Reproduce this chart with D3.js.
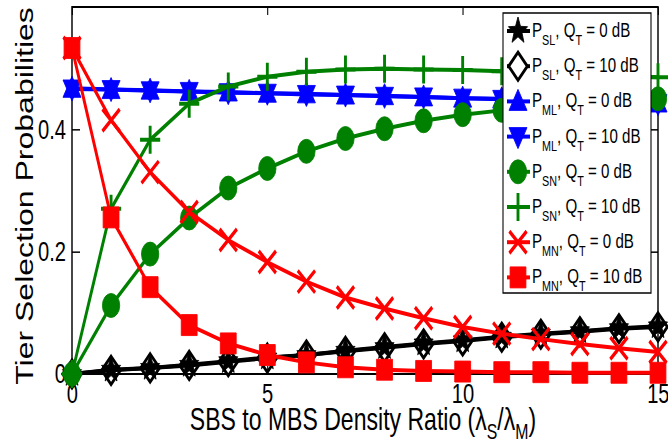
<!DOCTYPE html>
<html>
<head>
<meta charset="utf-8">
<script src="https://cdn.jsdelivr.net/npm/d3@7"></script>
<style>
  body { margin: 0; background: #fff; }
  svg { display: block; font-family: "Liberation Sans", Arial, Helvetica, sans-serif; }
</style>
</head>
<body>
<svg></svg>
<script>
// density ratio on x, one array per curve
var ratio = [0, 1, 2, 3, 4, 5, 6, 7, 8, 9, 10, 11, 12, 13, 14, 15];
var pSL0  = [0, 0.007, 0.010, 0.015, 0.021, 0.027, 0.031, 0.038, 0.044, 0.050, 0.055, 0.061, 0.066, 0.070, 0.075, 0.078];
var pSL10 = [0, 0.006, 0.010, 0.014, 0.020, 0.026, 0.031, 0.037, 0.043, 0.049, 0.054, 0.060, 0.065, 0.069, 0.074, 0.077];
var pML0  = [0.467, 0.465, 0.464, 0.462, 0.461, 0.459, 0.458, 0.456, 0.455, 0.453, 0.451, 0.450, 0.448, 0.446, 0.444, 0.443];
var pML10 = [0.466, 0.465, 0.463, 0.462, 0.460, 0.459, 0.457, 0.456, 0.454, 0.453, 0.451, 0.449, 0.448, 0.446, 0.444, 0.442];
var pSN0  = [0, 0.112, 0.196, 0.255, 0.304, 0.336, 0.364, 0.385, 0.401, 0.414, 0.424, 0.431, 0.437, 0.442, 0.446, 0.450];
var pSN10 = [0, 0.270, 0.383, 0.442, 0.470, 0.486, 0.494, 0.498, 0.499, 0.498, 0.497, 0.495, 0.493, 0.491, 0.488, 0.485];
var pMN0  = [0.533, 0.415, 0.330, 0.265, 0.219, 0.183, 0.151, 0.125, 0.107, 0.091, 0.077, 0.066, 0.057, 0.049, 0.042, 0.036];
var pMN10 = [0.533, 0.256, 0.142, 0.080, 0.050, 0.031, 0.019, 0.011, 0.007, 0.005, 0.004, 0.003, 0.003, 0.002, 0.002, 0.002];

var xTicks = [0, 5, 10, 15];
var yTicks = [0, 0.2, 0.4];
var tierNames = ["SL", "SL", "ML", "ML", "SN", "SN", "MN", "MN"];
var qtValues = ["0", "10", "0", "10", "0", "10", "0", "10"];

var series = [
  { vals: pSL0,  color: "#000", marker: "star" },
  { vals: pSL10, color: "#000", marker: "diamond" },
  { vals: pML0,  color: "#0000ff", marker: "triUp" },
  { vals: pML10, color: "#0000ff", marker: "triDown" },
  { vals: pSN0,  color: "#008000", marker: "circle" },
  { vals: pSN10, color: "#008000", marker: "plus" },
  { vals: pMN0,  color: "#ff0000", marker: "cross" },
  { vals: pMN10, color: "#ff0000", marker: "square" }
];

// the whole figure is squeezed sideways, so draw wide and scale x
var sx = 0.72;
var width = 668, height = 446;
var plotL = 72 / sx, plotR = 658 / sx, plotT = 7, plotB = 374;

var svg = d3.select("svg").attr("width", width).attr("height", height);
var g = svg.append("g").attr("transform", "scale(" + sx + ",1)");

var x = d3.scaleLinear().domain([0, 15]).range([plotL, plotR]);
var y = d3.scaleLinear().domain([0, 0.6]).range([plotB, plotT]);

function markerPath(type) {
  var p = d3.path();
  if (type == "star") {
    for (var i = 0; i < 10; i++) {
      var r = i % 2 == 0 ? 14 : 5.8;
      var a = -Math.PI / 2 + i * Math.PI / 5;
      if (i == 0) p.moveTo(r * Math.cos(a), r * Math.sin(a));
      else p.lineTo(r * Math.cos(a), r * Math.sin(a));
    }
    p.closePath();
  } else if (type == "diamond") {
    p.moveTo(0, -14); p.lineTo(13, 0); p.lineTo(0, 14); p.lineTo(-13, 0); p.closePath();
  } else if (type == "triUp") {
    p.moveTo(0, -12); p.lineTo(12.5, 9); p.lineTo(-12.5, 9); p.closePath();
  } else if (type == "triDown") {
    p.moveTo(0, 12); p.lineTo(12.5, -9); p.lineTo(-12.5, -9); p.closePath();
  } else if (type == "circle") {
    p.moveTo(12, 0); p.arc(0, 0, 12, 0, 2 * Math.PI);
  } else if (type == "plus") {
    p.moveTo(-14, 0); p.lineTo(14, 0); p.moveTo(0, -14); p.lineTo(0, 14);
  } else if (type == "cross") {
    p.moveTo(-12, -11); p.lineTo(12, 11); p.moveTo(-12, 11); p.lineTo(12, -11);
  } else if (type == "square") {
    p.rect(-11, -10.5, 22, 21);
  }
  return p.toString();
}

function styleMarker(sel, s, bg) {
  var open = s.marker == "plus" || s.marker == "cross";
  if (s.marker == "diamond") {
    sel.attr("fill", bg || "none").attr("stroke", s.color).attr("stroke-width", 3.5);
  } else if (open) {
    sel.attr("fill", "none").attr("stroke", s.color).attr("stroke-width", 4);
  } else {
    sel.attr("fill", s.color).attr("stroke", s.color).attr("stroke-width", 1);
  }
}

// axes box and inward ticks
var tickFont = 28;
var xAxis = g.append("g").attr("transform", "translate(0," + plotB + ")")
  .call(d3.axisBottom(x).tickValues(xTicks).tickSize(-8).tickPadding(9).tickFormat(d3.format("d")));
var yAxis = g.append("g").attr("transform", "translate(" + plotL + ",0)")
  .call(d3.axisLeft(y).tickValues(yTicks).tickSize(-8 / sx).tickPadding(6 / sx).tickFormat(function(d) { return d == 0 ? "0" : d3.format(".1f")(d); }));
g.append("g").attr("transform", "translate(0," + plotT + ")")
  .call(d3.axisTop(x).tickValues(xTicks).tickSize(-8).tickFormat(""));
g.append("g").attr("transform", "translate(" + plotR + ",0)")
  .call(d3.axisRight(y).tickValues(yTicks).tickSize(-8 / sx).tickFormat(""));

g.selectAll(".domain").remove();
g.selectAll(".tick line").attr("stroke", "#000").attr("stroke-width", 1.5);
g.selectAll(".tick text").attr("font-size", tickFont).attr("fill", "#000")
  .attr("font-family", "'Liberation Sans', Arial, sans-serif");
xAxis.selectAll(".tick text").attr("dy", "0.71em");

g.append("rect")
  .attr("x", plotL).attr("y", plotT)
  .attr("width", plotR - plotL).attr("height", plotB - plotT)
  .attr("fill", "none").attr("stroke", "#000").attr("stroke-width", 2);

// curves
var line = d3.line()
  .x(function(d, i) { return x(ratio[i]); })
  .y(function(d) { return y(d); });

series.forEach(function(s) {
  var grp = g.append("g");
  grp.append("path")
    .datum(s.vals)
    .attr("d", line)
    .attr("fill", "none")
    .attr("stroke", s.color)
    .attr("stroke-width", 4)
    .attr("stroke-linejoin", "round");
  grp.selectAll("path.m")
    .data(s.vals)
    .enter()
    .append("path")
    .attr("class", "m")
    .attr("d", markerPath(s.marker))
    .attr("transform", function(d, i) {
      return "translate(" + x(ratio[i]) + "," + y(d) + ")";
    })
    .call(styleMarker, s);
});

// axis titles
var xl = g.append("text")
  .attr("x", 363 / sx).attr("y", 430)
  .attr("text-anchor", "middle").attr("font-size", 32).attr("fill", "#000");
xl.append("tspan").text("SBS to MBS Density Ratio (\u03bb");
xl.append("tspan").attr("font-size", 22).attr("dy", 9).text("S");
xl.append("tspan").attr("dy", -9).text("/\u03bb");
xl.append("tspan").attr("font-size", 22).attr("dy", 9).text("M");
xl.append("tspan").attr("dy", -9).text(")");

g.append("text")
  .attr("transform", "translate(" + (33 / sx) + ",196) rotate(-90)")
  .attr("text-anchor", "middle").attr("font-size", 32).attr("fill", "#000")
  .text("Tier Selection Probabilities");

// legend
var legX = 503 / sx, legY = 13, legW = (651 - 503) / sx, legH = 280;
var lg = g.append("g");
lg.append("rect")
  .attr("x", legX).attr("y", legY).attr("width", legW).attr("height", legH)
  .attr("fill", "#fff").attr("stroke", "#000").attr("stroke-width", 1.5);

series.forEach(function(s, i) {
  var cy = 31 + i * 35.2;
  lg.append("line")
    .attr("x1", 507 / sx).attr("x2", 530 / sx)
    .attr("y1", cy).attr("y2", cy)
    .attr("stroke", s.color).attr("stroke-width", 4);
  lg.append("path")
    .attr("d", markerPath(s.marker))
    .attr("transform", "translate(" + (518 / sx) + "," + cy + ")")
    .call(styleMarker, s, "#fff");
  var t = lg.append("text")
    .attr("x", 532 / sx).attr("y", cy + 6)
    .attr("font-size", 21).attr("fill", "#000");
  t.append("tspan").text("P");
  t.append("tspan").attr("font-size", 15).attr("dy", 8).text(tierNames[i]);
  t.append("tspan").attr("dy", -8).text(", Q");
  t.append("tspan").attr("font-size", 15).attr("dy", 8).text("T");
  t.append("tspan").attr("dy", -8).text(" = " + qtValues[i] + " dB");
});
</script>
</body>
</html>
